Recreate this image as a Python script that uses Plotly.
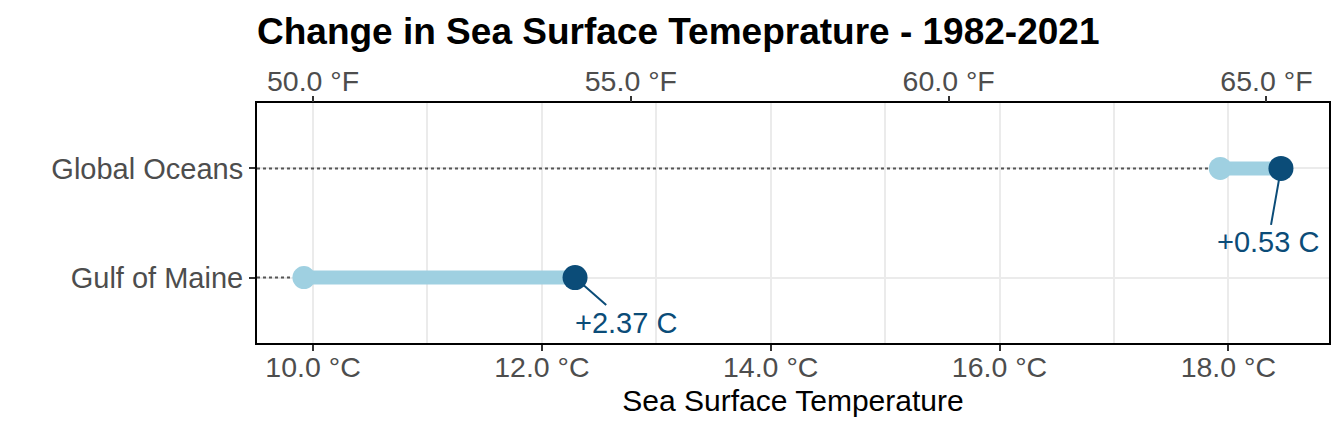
import plotly.graph_objects as go

regions = ["Gulf of Maine", "Global Oceans"]
temp_1982 = [9.92, 17.93]
temp_2021 = [12.29, 18.46]
c_ticks = [10, 12, 14, 16, 18]
f_ticks = [50, 55, 60, 65]

x_min, x_max = 9.51, 18.88
light = "#9fd0e1"
dark = "#0b4c78"
grid = "#ebebeb"
tickc = "#4d4d4d"
FONT = "Liberation Sans, Arial, sans-serif"

fig = go.Figure()

for r, s, e in zip(regions, temp_1982, temp_2021):
    fig.add_trace(go.Scatter(x=[x_min, s], y=[r, r], mode="lines",
                             line=dict(color="#555555", width=2, dash="dot"),
                             showlegend=False, hoverinfo="skip"))
    fig.add_trace(go.Scatter(x=[s, e], y=[r, r], mode="lines",
                             line=dict(color=light, width=14),
                             showlegend=False, hoverinfo="skip"))

fig.add_trace(go.Scatter(x=temp_1982, y=regions, mode="markers",
                         marker=dict(color=light, size=23), showlegend=False))
fig.add_trace(go.Scatter(x=temp_2021, y=regions, mode="markers",
                         marker=dict(color=dark, size=25), showlegend=False))

offsets = {"Gulf of Maine": (51, 45), "Global Oceans": (-13, 74)}
for r, s, e in zip(regions, temp_1982, temp_2021):
    ax, ay = offsets[r]
    fig.add_annotation(x=e, y=r, xref="x", yref="y", text=f"+{e - s:.2f} C",
                       showarrow=True, arrowhead=0, arrowwidth=2, arrowcolor=dark,
                       ax=ax, ay=ay, font=dict(family=FONT, size=29, color=dark),
                       standoff=10)

# invisible trace to activate top axis
fig.add_trace(go.Scatter(x=[x_min * 9 / 5 + 32], y=[regions[0]], xaxis="x2",
                         mode="markers", marker=dict(opacity=0), showlegend=False,
                         hoverinfo="skip"))

fig.update_layout(
    width=1344, height=432,
    margin=dict(l=257, r=15, t=103, b=89),
    paper_bgcolor="white", plot_bgcolor="white",
    font=dict(family=FONT),
    title=dict(text="<b>Change in Sea Surface Temeprature - 1982-2021</b>",
               x=257 / 1344, xanchor="left", y=1 - 31 / 432, yanchor="middle",
               font=dict(family=FONT, size=37, color="black")),
    xaxis=dict(range=[x_min, x_max], tickvals=c_ticks,
               ticktext=[f"{v:.1f} °C" for v in c_ticks],
               tickfont=dict(size=28.5, color=tickc),
               ticks="outside", ticklen=6, tickwidth=2, tickcolor="#333333",
               ticklabelstandoff=-8,
               showgrid=True, gridcolor=grid, gridwidth=1.5,
               minor=dict(dtick=1, tick0=0, showgrid=True, gridcolor=grid, gridwidth=1.5),
               showline=True, linecolor="black", linewidth=2, mirror=True,
               zeroline=False,
               title=dict(text="Sea Surface Temperature", standoff=8,
                          font=dict(size=30, color="black"))),
    xaxis2=dict(overlaying="x", side="top",
                range=[x_min * 9 / 5 + 32, x_max * 9 / 5 + 32],
                tickvals=f_ticks, ticktext=[f"{v:.1f} °F" for v in f_ticks],
                tickfont=dict(size=28.5, color=tickc),
                ticks="outside", ticklen=6, tickwidth=2, tickcolor="#333333",
                ticklabelstandoff=-6,
                showgrid=False, zeroline=False),
    yaxis=dict(type="category", categoryorder="array", categoryarray=regions,
               range=[-0.6, 1.6], tickfont=dict(size=29, color=tickc),
               ticks="outside", ticklen=6, tickwidth=2, tickcolor="#333333",
               showgrid=True, gridcolor=grid, gridwidth=2,
               showline=True, linecolor="black", linewidth=2, mirror=True,
               zeroline=False),
)

fig.write_html("out.html", config={"displayModeBar": False},
               post_script="document.body.style.margin='0';document.body.style.overflow='hidden';")
